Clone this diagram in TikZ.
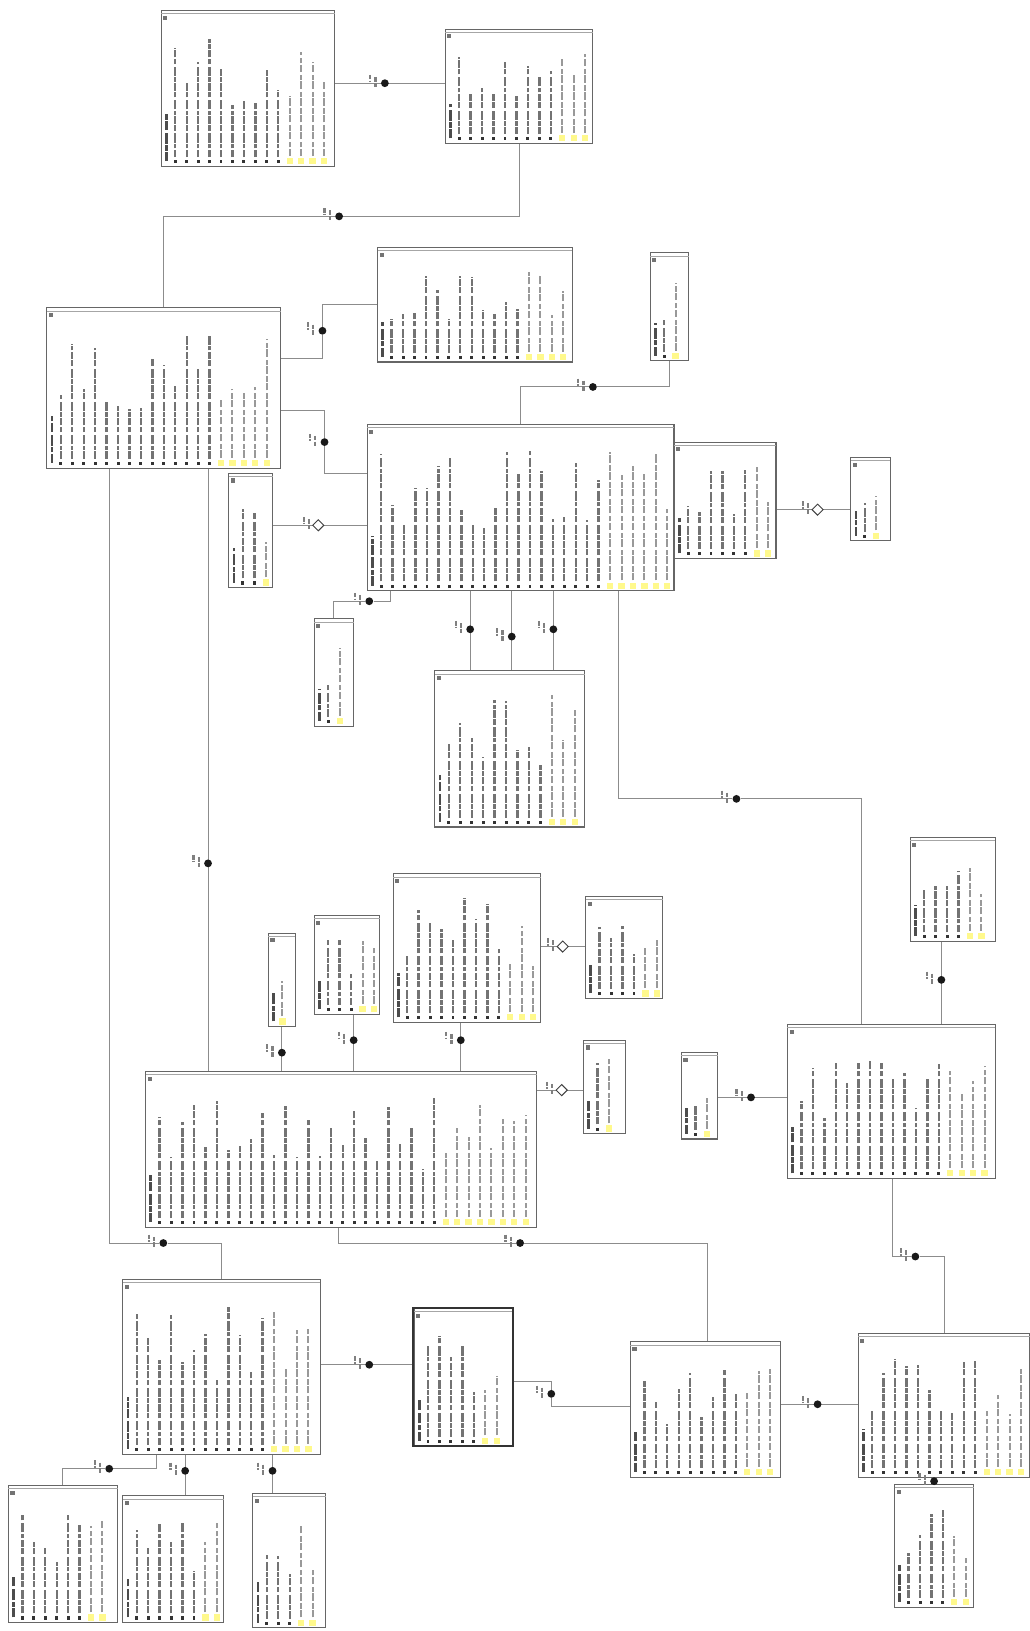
\documentclass[tikz,border=0pt]{standalone}
\usepackage{tikz}
\usetikzlibrary{arrows.meta,positioning,shapes.geometric,calc,fit,backgrounds}

\newcommand\ertable[5]{%
  \node[tblbox, fit={(#2,#3) (#4,#5)}] (#1) {};
  \draw[tbltop] (#2,{#3+3}) -- (#4,{#3+3});
  \fill[tblicon] ({#2+2},{#3+5}) rectangle ({#2+6},{#3+9});
  \draw[titletxt] ({#2+5},{#5-5}) -- ++(0,{-0.3*(#5-#3)});
  \pgfmathtruncatemacro\nrows{max(1,(#4-#2-8)/11)}
  \foreach \i in {1,...,\nrows}{
    \pgfmathsetmacro\xx{#2+8+(\i-0.5)*11}
    \pgfmathsetmacro\len{(#5-#3-20)*(0.35+0.55*rnd)}
    \pgfmathtruncatemacro\isidx{\i>0.78*\nrows ? 1 : 0}
    \ifnum\isidx=1
      \fill[idxicon] ({\xx-3},{#5-8}) rectangle ({\xx+3},{#5-2});
      \draw[idxtxt] (\xx,{#5-10}) -- ++(0,-\len);
    \else
      \fill[rowicon] ({\xx-1.4},{#5-6}) rectangle ({\xx+1.4},{#5-3});
      \draw[rowtxt] (\xx,{#5-9}) -- ++(0,-\len);
    \fi
  }
}
\newcommand\relmark[4]{%
  \node[#4] (#1) at (#2,#3) {};
  \draw[marklbl] ({#2-14},{#3-8}) -- ++(0,7) ({#2-9},{#3-6}) -- ++(0,10);
}

\begin{document}
\begin{tikzpicture}[
  x=0.02cm, y=-0.02cm,
  tblbox/.style={rectangle, draw=black!60, fill=white, line width=0.6pt, inner sep=0pt},
  tbltop/.style={draw=black!35, line width=0.4pt},
  tblicon/.style={fill=black!55},
  titletxt/.style={draw=black!70, line width=1.5pt, dash pattern=on 5pt off 0.7pt on 3pt off 0.7pt on 6pt off 1.6pt},
  rowtxt/.style={draw=black!55, line width=1.3pt, dash pattern=on 4pt off 0.7pt on 2.5pt off 0.7pt on 5pt off 1.6pt on 3pt off 0.7pt},
  idxtxt/.style={draw=black!40, line width=1.1pt, dash pattern=on 4pt off 0.7pt on 3pt off 1.5pt},
  rowicon/.style={fill=black!80},
  idxicon/.style={fill=yellow!45},
  rel/.style={draw=black!45, line width=0.5pt},
  mkfull/.style={circle, fill=black!90, inner sep=0pt, minimum size=0.15cm},
  mkopen/.style={diamond, draw=black!75, fill=white, line width=0.5pt, inner sep=0pt, minimum size=0.22cm},
  marklbl/.style={draw=black!50, line width=1.2pt, dash pattern=on 2.5pt off 0.6pt}
]
\pgfmathsetseed{17}
\useasboundingbox (0,0) rectangle (990,1568);

\ertable{t1}{155}{10}{322}{160}
\ertable{t2}{428}{28}{570}{138}
\ertable{t3}{45}{296}{270}{450}
\ertable{t4}{363}{238}{550}{348}
\ertable{t5}{625}{243}{662}{347}
\ertable{t6}{353}{408}{648}{568}
\ertable{t7}{648}{425}{746}{537}
\ertable{t8}{818}{440}{856}{520}
\ertable{t9}{220}{455}{262}{565}
\ertable{t10}{302}{595}{340}{698}
\ertable{t11}{418}{645}{562}{795}
\ertable{t12}{258}{897}{284}{987}
\ertable{t13}{302}{880}{365}{975}
\ertable{t14}{378}{840}{520}{983}
\ertable{t15}{563}{862}{637}{960}
\ertable{t16}{875}{805}{957}{905}
\ertable{t17}{140}{1030}{516}{1180}
\ertable{t18}{561}{1000}{601}{1090}
\ertable{t19}{655}{1012}{690}{1095}
\ertable{t20}{757}{985}{957}{1133}
\ertable{t21}{118}{1230}{308}{1398}
\ertable{t22}{398}{1258}{493}{1390}
\draw[black!80, line width=1.1pt] (t22.south west) rectangle (t22.north east);
\ertable{t23}{606}{1290}{750}{1420}
\ertable{t24}{825}{1282}{990}{1420}
\ertable{t25}{8}{1428}{113}{1560}
\ertable{t26}{118}{1438}{215}{1560}
\ertable{t27}{243}{1436}{313}{1565}
\ertable{t28}{860}{1427}{936}{1545}

\relmark{r1}{370}{80}{mkfull}
\relmark{r2}{326}{208}{mkfull}
\relmark{r3}{310}{318}{mkfull}
\relmark{r4}{312}{425}{mkfull}
\relmark{r5}{306}{505}{mkopen}
\relmark{r6}{570}{372}{mkfull}
\relmark{r7}{786}{490}{mkopen}
\relmark{r8}{355}{578}{mkfull}
\relmark{r9}{452}{605}{mkfull}
\relmark{r10}{492}{612}{mkfull}
\relmark{r11}{532}{605}{mkfull}
\relmark{r12}{708}{768}{mkfull}
\relmark{r13}{200}{830}{mkfull}
\relmark{r14}{157}{1195}{mkfull}
\relmark{r15}{500}{1195}{mkfull}
\relmark{r16}{355}{1312}{mkfull}
\relmark{r17}{530}{1340}{mkfull}
\relmark{r18}{786}{1350}{mkfull}
\relmark{r19}{880}{1208}{mkfull}
\relmark{r20}{898}{1424}{mkfull}
\relmark{r21}{905}{942}{mkfull}
\relmark{r22}{722}{1055}{mkfull}
\relmark{r23}{540}{1048}{mkopen}
\relmark{r24}{541}{910}{mkopen}
\relmark{r25}{443}{1000}{mkfull}
\relmark{r26}{340}{1000}{mkfull}
\relmark{r27}{271}{1012}{mkfull}
\relmark{r28}{105}{1412}{mkfull}
\relmark{r29}{178}{1414}{mkfull}
\relmark{r30}{262}{1414}{mkfull}

\coordinate (r3a) at (310,345);
\coordinate (r4a) at (312,395);
\coordinate (r4b) at (312,455);
\coordinate (r6a) at (500,372);
\coordinate (r8a) at (375,578);
\coordinate (r12a) at (595,768);
\coordinate (r12b) at (828,768);
\coordinate (r14a) at (105,1195);
\coordinate (r15a) at (325,1195);
\coordinate (r15b) at (680,1195);
\coordinate (r17a) at (530,1328);
\coordinate (r17b) at (530,1352);
\coordinate (r19a) at (858,1208);
\coordinate (r28a) at (150,1412);

\begin{scope}[on background layer]
  \fill[white] (0,0) rectangle (990,1568);
  \draw[rel] (t1.east |- r1) -- (t2.west |- r1);
  \draw[rel] (t2.south) |- (r2) -| (t3.north);
  \draw[rel] (t3.east |- r3a) -- (r3a) -- (r3) |- (t4.west);
  \draw[rel] (t3.east |- r4a) -- (r4a) -- (r4) -- (r4b) -- (t6.west |- r4b);
  \draw[rel] (t9.east |- r5) -- (t6.west |- r5);
  \draw[rel] (t5.south) |- (r6) -- (r6a) -- (t6.north -| r6a);
  \draw[rel] (t7.east |- r7) -- (t8.west |- r7);
  \draw[rel] (t6.south -| r8a) -- (r8a) -- (r8) -| (t10.north);
  \draw[rel] (t6.south -| r9) -- (t11.north -| r9);
  \draw[rel] (t6.south -| r10) -- (t11.north -| r10);
  \draw[rel] (t6.south -| r11) -- (t11.north -| r11);
  \draw[rel] (t6.south -| r12a) -- (r12a) -- (r12) -- (r12b) -- (t20.north -| r12b);
  \draw[rel] (t3.south -| r13) -- (t17.north -| r13);
  \draw[rel] (t3.south -| r14a) -- (r14a) -- (r14) -| (t21.north);
  \draw[rel] (t17.south -| r15a) -- (r15a) -- (r15) -- (r15b) -- (t23.north -| r15b);
  \draw[rel] (t21.east |- r16) -- (t22.west |- r16);
  \draw[rel] (t22.east |- r17a) -- (r17a) -- (r17) -- (r17b) -- (t23.west |- r17b);
  \draw[rel] (t23.east |- r18) -- (t24.west |- r18);
  \draw[rel] (t20.south -| r19a) -- (r19a) -- (r19) -| (t24.north);
  \draw[rel] (t24.south -| r20) -- (t28.north -| r20);
  \draw[rel] (t16.south -| r21) -- (t20.north -| r21);
  \draw[rel] (t19.east |- r22) -- (t20.west |- r22);
  \draw[rel] (t17.east |- r23) -- (t18.west |- r23);
  \draw[rel] (t14.east |- r24) -- (t15.west |- r24);
  \draw[rel] (t14.south -| r25) -- (t17.north -| r25);
  \draw[rel] (t13.south -| r26) -- (t17.north -| r26);
  \draw[rel] (t12.south -| r27) -- (t17.north -| r27);
  \draw[rel] (t21.south -| r28a) -- (r28a) -- (r28) -| (t25.north);
  \draw[rel] (t21.south -| r29) -- (t26.north -| r29);
  \draw[rel] (t21.south -| r30) -- (t27.north -| r30);
\end{scope}
\end{tikzpicture}
\end{document}
